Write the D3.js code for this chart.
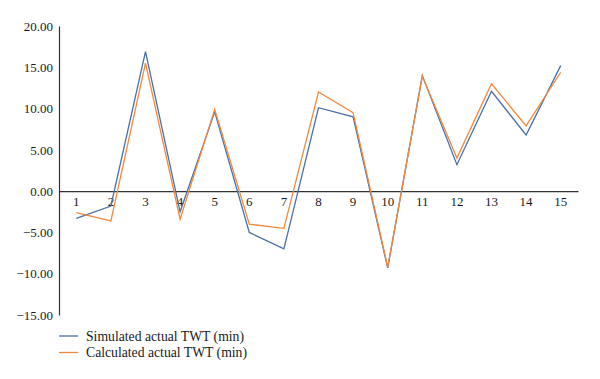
<!DOCTYPE html>
<html>
<head>
<meta charset="utf-8">
<script src="https://cdn.jsdelivr.net/npm/d3@7"></script>
<style>
  body { margin: 0; background: #fff; }
  text { font-family: "Liberation Serif", "Times New Roman", serif; fill: #1a1a1a; }
</style>
</head>
<body>
<script>
const width = 600;
const height = 379;

// data
const categories = d3.range(1, 16);
const simulated = [-3.3, -1.8, 16.9, -2.5, 9.6, -5.0, -7.0, 10.1, 9.0, -9.3, 14.0, 3.2, 12.1, 6.8, 15.2];
const calculated = [-2.6, -3.6, 15.5, -3.4, 9.9, -4.0, -4.5, 12.0, 9.5, -9.2, 13.9, 4.0, 13.0, 7.9, 14.4];
const yTicks = [-15, -10, -5, 0, 5, 10, 15, 20];

const series = [
  { name: "Simulated actual TWT (min)", values: simulated, color: "#4a70a8" },
  { name: "Calculated actual TWT (min)", values: calculated, color: "#f08a3e" }
];

const plot = { left: 59, right: 578, top: 26, bottom: 315 };

const svg = d3.select("body")
  .append("svg")
  .attr("width", width)
  .attr("height", height);

const x = d3.scaleBand()
  .domain(categories)
  .range([plot.left, plot.right]);

const y = d3.scaleLinear()
  .domain([-15, 20])
  .range([plot.bottom, plot.top]);

// y axis
const yAxis = svg.append("g")
  .attr("transform", `translate(${plot.left},0)`)
  .call(d3.axisLeft(y).tickValues(yTicks).tickFormat(d3.format(".2f")).tickSize(0).tickPadding(6));
yAxis.select(".domain").attr("stroke", "#333").attr("stroke-width", 1.2);
yAxis.selectAll("text").style("font-size", "13px").attr("fill", "#1a1a1a");

// x axis at zero
const xAxis = svg.append("g")
  .attr("transform", `translate(0,${y(0)})`)
  .call(d3.axisBottom(x).tickSize(0).tickPadding(6));
xAxis.select(".domain").attr("stroke", "#333").attr("stroke-width", 1.2);
xAxis.selectAll("text").style("font-size", "13px").attr("fill", "#1a1a1a");

const line = d3.line()
  .x((d, i) => x(categories[i]) + x.bandwidth() / 2)
  .y(d => y(d));

series.forEach(s => {
  svg.append("path")
    .datum(s.values)
    .attr("fill", "none")
    .attr("stroke", s.color)
    .attr("stroke-width", 1.3)
    .attr("d", line);
});

// legend
const legend = svg.append("g").attr("transform", "translate(59,336)");
series.forEach((s, i) => {
  const g = legend.append("g").attr("transform", `translate(0,${i * 16.5})`);
  g.append("line")
    .attr("x1", 0).attr("x2", 19)
    .attr("stroke", s.color)
    .attr("stroke-width", 1.3);
  g.append("text")
    .attr("x", 27)
    .attr("dy", "0.35em")
    .style("font-size", "13.7px")
    .text(s.name);
});
</script>
</body>
</html>
